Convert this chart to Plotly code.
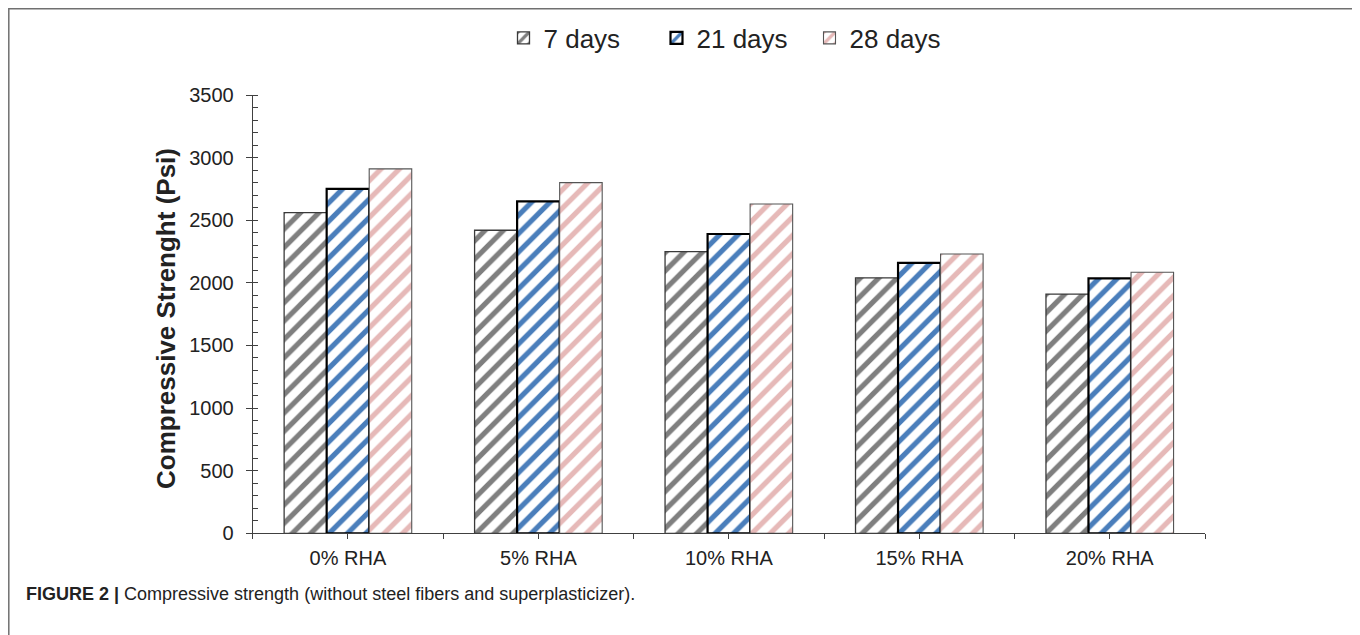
import plotly.graph_objects as go

categories = ["0% RHA", "5% RHA", "10% RHA", "15% RHA", "20% RHA"]
series_names = ["7 days", "21 days", "28 days"]
days7 = [2560, 2420, 2250, 2040, 1910]
days21 = [2750, 2650, 2390, 2160, 2035]
days28 = [2910, 2800, 2630, 2230, 2085]
y_ticks = [0, 500, 1000, 1500, 2000, 2500, 3000, 3500]

OFF = 8  # page body margin
W, H = 1352, 627
def px_x(p):
    return (p - OFF) / W
def px_y(p):
    return (H - (p - OFF)) / H

styles = [
    dict(fg="#7f7f7f", line="#3a3a3a", lw=1.3),
    dict(fg="#4a7ebb", line="#000000", lw=2.2),
    dict(fg="#e6b9b8", line="#555555", lw=1.1),
]

fig = go.Figure()
xs = list(range(len(categories)))
for name, vals, st in zip(series_names, [days7, days21, days28], styles):
    fig.add_trace(go.Bar(
        x=xs, y=vals, name=name,
        marker=dict(
            color="white",
            line=dict(color=st["line"], width=st["lw"]),
            pattern=dict(shape="/", fgcolor=st["fg"], bgcolor="white",
                         size=13, solidity=0.4, fillmode="replace"),
        ),
    ))

font_main = "Liberation Sans, Arial, sans-serif"

fig.update_layout(
    width=W, height=H,
    margin=dict(l=0, r=0, t=0, b=0),
    paper_bgcolor="white", plot_bgcolor="white",
    barmode="group", bargap=0.33, bargroupgap=0,
    showlegend=True,
    legend=dict(orientation="h", x=px_x(733), y=px_y(38), xanchor="center", yanchor="middle",
                font=dict(family=font_main, size=26, color="#222222"),
                itemwidth=30, entrywidth=108, entrywidthmode="pixels",
                tracegroupgap=0, bgcolor="rgba(0,0,0,0)"),
    xaxis=dict(
        domain=[px_x(252.7), px_x(1205)],
        range=[-0.5, len(categories) - 0.5],
        tickvals=xs, ticktext=categories,
        ticks="outside", ticklen=5, tickcolor="#404040", tickwidth=1,
        ticklabelstandoff=2,
        minor=dict(tickvals=[i - 0.5 for i in range(len(categories) + 1)],
                   ticks="outside", ticklen=5, tickcolor="#404040", tickwidth=1),
        showline=True, linecolor="#404040", linewidth=1,
        showgrid=False, zeroline=False, automargin=False,
        tickfont=dict(family=font_main, size=20, color="#222222"),
        anchor="y",
    ),
    yaxis=dict(
        domain=[px_y(533.3), px_y(95)],
        range=[0, 3500],
        tickvals=y_ticks,
        ticks="outside", ticklen=6, tickcolor="#404040", tickwidth=1,
        ticklabelstandoff=8,
        minor=dict(dtick=100, tick0=0, ticks="inside", ticklen=5, tickcolor="#404040", tickwidth=1),
        showline=True, linecolor="#404040", linewidth=1,
        showgrid=False, zeroline=False, automargin=False,
        tickfont=dict(family=font_main, size=20, color="#222222"),
        anchor="x",
    ),
)

fig.add_annotation(
    text="<b>Compressive Strenght (Psi)</b>", textangle=-90,
    x=px_x(166), y=px_y(319), xref="paper", yref="paper",
    showarrow=False, xanchor="center", yanchor="middle",
    font=dict(family=font_main, size=26, color="#222222"),
)

fig.add_annotation(
    text="<b>FIGURE 2 |</b> Compressive strength (without steel fibers and superplasticizer).",
    x=px_x(24), y=px_y(594), xref="paper", yref="paper",
    showarrow=False, xanchor="left", yanchor="middle",
    font=dict(family=font_main, size=18, color="#222222"),
)

fig.add_shape(type="rect", xref="paper", yref="paper",
              x0=px_x(8.8), x1=px_x(1354.5), y0=px_y(650), y1=px_y(8.8),
              line=dict(color="#707070", width=1.5), fillcolor="rgba(0,0,0,0)", layer="below")

fig.write_html("out.html")
